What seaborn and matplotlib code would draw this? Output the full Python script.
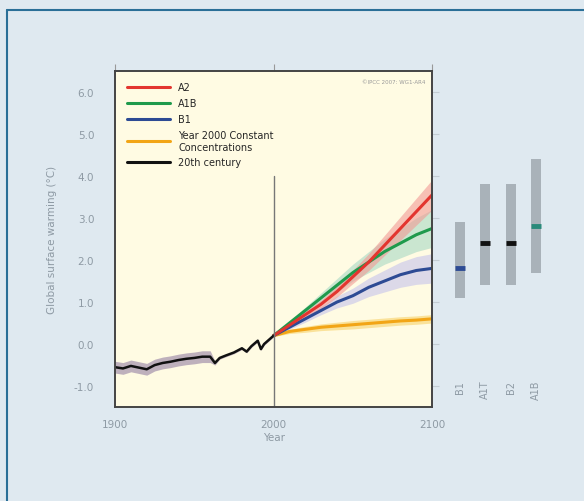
import numpy as np
import pandas as pd
import seaborn as sns
import matplotlib.pyplot as plt
from matplotlib.lines import Line2D

# 20th century observed/model mean
hist_years = [1900, 1905, 1910, 1915, 1920, 1925, 1930, 1935, 1940, 1945, 1950,
              1955, 1960, 1963, 1966, 1970, 1975, 1980, 1983, 1986, 1990, 1992,
              1994, 1997, 2000]
hist_vals = [-0.55, -0.58, -0.52, -0.56, -0.6, -0.5, -0.45, -0.42, -0.38, -0.35,
             -0.33, -0.3, -0.3, -0.45, -0.33, -0.27, -0.2, -0.1, -0.18, -0.05,
             0.08, -0.12, 0.0, 0.1, 0.2]
hist_spread = [0.14, 0.14, 0.14, 0.14, 0.14, 0.14, 0.14, 0.14, 0.14, 0.14, 0.14,
               0.14, 0.14, 0.05, 0.03, 0.03, 0.03, 0.03, 0.03, 0.03, 0.03, 0.03,
               0.03, 0.03, 0.03]

# projections
proj_years = [2000, 2010, 2020, 2030, 2040, 2050, 2060, 2070, 2080, 2090, 2100]
a2 = [0.2, 0.45, 0.7, 0.95, 1.25, 1.6, 1.95, 2.35, 2.75, 3.15, 3.55]
a1b = [0.2, 0.5, 0.8, 1.1, 1.4, 1.7, 1.95, 2.2, 2.4, 2.6, 2.75]
b1 = [0.2, 0.4, 0.6, 0.8, 1.0, 1.15, 1.35, 1.5, 1.65, 1.75, 1.8]
const = [0.2, 0.3, 0.35, 0.4, 0.43, 0.46, 0.49, 0.52, 0.55, 0.57, 0.6]
a2_spread = [0.02, 0.05, 0.08, 0.1, 0.13, 0.16, 0.2, 0.24, 0.28, 0.32, 0.36]
a1b_spread = [0.02, 0.05, 0.08, 0.12, 0.16, 0.2, 0.25, 0.3, 0.35, 0.4, 0.45]
b1_spread = [0.02, 0.05, 0.08, 0.1, 0.14, 0.18, 0.22, 0.26, 0.3, 0.33, 0.35]
const_spread = [0.02, 0.05, 0.07, 0.08, 0.09, 0.1, 0.1, 0.1, 0.1, 0.1, 0.1]

# likely ranges at 2100
bar_names = ["B1", "A1T", "B2", "A1B"]
bar_low = [1.1, 1.4, 1.4, 1.7]
bar_high = [2.9, 3.8, 3.8, 4.4]
bar_best = [1.8, 2.4, 2.4, 2.8]
bar_mark_colors = ["#2d4b94", "#111111", "#111111", "#2a8a7a"]

bg = "#dfe9f0"
txt = "#8e9aa4"
sns.set_style("white")

fig = plt.figure(figsize=(5.84, 5.02), dpi=100, facecolor=bg)
ax = fig.add_axes([0.197, 0.187, 0.543, 0.670])
ax.set_facecolor("#fffbe3")

# grey band for 20th century
ax.fill_between(hist_years, np.array(hist_vals) - np.array(hist_spread),
                np.array(hist_vals) + np.array(hist_spread),
                color="#b3a3b6", alpha=0.85, lw=0)

series = [("A2", a2, a2_spread, "#e3352f", "#f29a95"),
          ("A1B", a1b, a1b_spread, "#1f9a4c", "#a8d8c4"),
          ("B1", b1, b1_spread, "#2d4b94", "#c5c3ec"),
          ("Year 2000 Constant\nConcentrations", const, const_spread, "#f2a516", "#f8d26a")]

for name, vals, spr, col, fcol in reversed(series):
    v = np.array(vals)
    s = np.array(spr)
    ax.fill_between(proj_years, v - s, v + s, color=fcol, alpha=0.6, lw=0)

for name, vals, spr, col, fcol in reversed(series):
    df = pd.DataFrame({"year": proj_years, "warming": vals})
    sns.lineplot(data=df, x="year", y="warming", ax=ax, color=col, lw=2.2)

hist_df = pd.DataFrame({"year": hist_years, "warming": hist_vals})
sns.lineplot(data=hist_df, x="year", y="warming", ax=ax, color="#111111", lw=1.8)

ax.plot([2000, 2000], [-1.5, 4.0], color="#777777", lw=1.0)

ax.set_xlim(1900, 2100)
ax.set_ylim(-1.5, 6.5)
ax.set_xticks([1900, 2000, 2100])
ax.set_yticks([-1.0, 0.0, 1.0, 2.0, 3.0, 4.0, 5.0, 6.0])
ax.set_yticklabels(["-1.0", "0.0", "1.0", "2.0", "3.0", "4.0", "5.0", "6.0"])
ax.tick_params(axis="both", direction="out", length=5, width=0.8, color="#999999",
               labelcolor=txt, labelsize=7.5, top=True)
ax.tick_params(axis="y", pad=10)
ax.tick_params(axis="y", which="both", right=True, color="#c4cdd4")
for sp in ax.spines.values():
    sp.set_color("#444444")
    sp.set_linewidth(1.4)
ax.set_xlabel("Year", color=txt, fontsize=7.5, labelpad=2)
ax.set_ylabel("Global surface warming (°C)", color=txt, fontsize=7.5, labelpad=12)

handles = [Line2D([], [], color=c, lw=2.2) for _, _, _, c, _ in series]
handles.append(Line2D([], [], color="#111111", lw=2.2))
labels = [s[0] for s in series] + ["20th century"]
ax.legend(handles, labels, loc="upper left", frameon=False, fontsize=7,
          handlelength=4.5, labelspacing=0.6, borderaxespad=0.8)

ax.text(0.98, 0.975, "©IPCC 2007: WG1-AR4", transform=ax.transAxes, ha="right",
        va="top", fontsize=4, color="#999999")

# bars on the right
bx = fig.add_axes([0.762, 0.187, 0.197, 0.670])
bx.set_facecolor(bg)
bx.patch.set_alpha(0)
xs = np.arange(len(bar_names))
bx.bar(xs, np.array(bar_high) - np.array(bar_low), bottom=bar_low, width=0.4,
       color="#a9b2b9", edgecolor="none")
for x, b, c in zip(xs, bar_best, bar_mark_colors):
    bx.plot([x - 0.2, x + 0.2], [b, b], color=c, lw=3.5, solid_capstyle="butt")
for x, n in zip(xs, bar_names):
    bx.text(x, -0.85, n, rotation=90, ha="center", va="top", fontsize=7, color=txt)
bx.set_xlim(-0.59, 3.95)
bx.set_ylim(-1.5, 6.5)
bx.axis("off")

# panel frame (top and left edges)
fig.add_artist(Line2D([7 / 584, 7 / 584], [0, 1 - 11 / 502], color="#2a6f97", lw=1.5))
fig.add_artist(Line2D([7 / 584, 1], [1 - 11 / 502, 1 - 11 / 502], color="#2a6f97", lw=1.5))

fig.savefig("out.png", dpi=100, facecolor=bg)
